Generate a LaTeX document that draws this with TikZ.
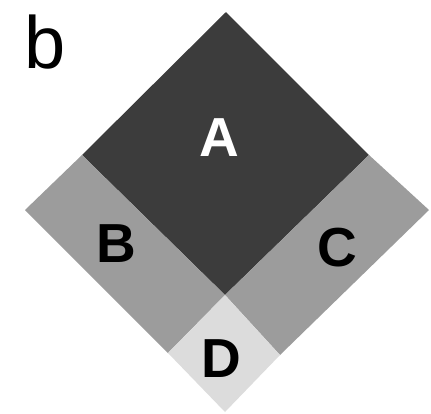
\documentclass[tikz,border=0pt]{standalone}
\usepackage{fontspec}
\setmainfont{Liberation Sans}
\definecolor{darkA}{HTML}{3C3C3C}
\definecolor{midBC}{HTML}{9C9C9C}
\definecolor{lightD}{HTML}{DCDCDC}
\tikzset{
  region/.style={draw=none},
  lbl/.style={font=\fontsize{55}{55}\selectfont\bfseries, inner sep=0pt},
}
\begin{document}
\begin{tikzpicture}[x=1pt,y=-1pt]
\useasboundingbox (0,0) rectangle (431,413);
\coordinate (T) at (226,12);
\coordinate (L) at (25,210);
\coordinate (R) at (429,210);
\coordinate (Bt) at (225,412);
\coordinate (AL) at (82,155);
\coordinate (AR) at (369,155);
\coordinate (AB) at (225,295);
\coordinate (DL) at (168,353);
\coordinate (DR) at (280,355);
\fill[region, darkA] (T) -- (AR) -- (AB) -- (AL) -- cycle;
\fill[region, midBC] (AL) -- (AB) -- (DL) -- (L) -- cycle;
\fill[region, midBC] (AR) -- (R) -- (DR) -- (AB) -- cycle;
\fill[region, lightD] (AB) -- (DR) -- (Bt) -- (DL) -- cycle;
\node[anchor=base west, font=\fontsize{74}{74}\selectfont, inner sep=0pt] (b) at (24,68) {b};
\node[lbl, text=white] (A) at (219,138) {A};
\node[lbl] (B) at (116,244) {B};
\node[lbl] (C) at (337,248) {C};
\node[lbl] (D) at (221,359) {D};
\end{tikzpicture}
\end{document}
